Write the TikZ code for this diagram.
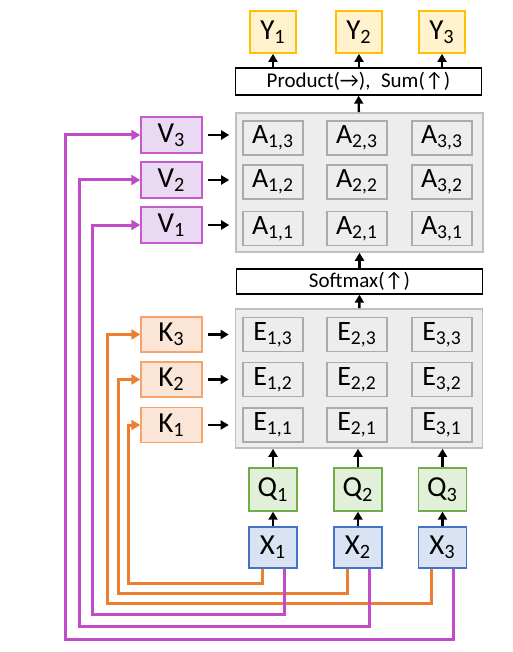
\documentclass[tikz,border=0pt]{standalone}
\usepackage{fontspec}
\setmainfont{Carlito}
\usetikzlibrary{calc,arrows.meta}
\definecolor{yfill}{HTML}{FFF2CC}
\definecolor{yline}{HTML}{FFC000}
\definecolor{vfill}{HTML}{EAD9F2}
\definecolor{vline}{HTML}{C55ACE}
\definecolor{kfill}{HTML}{FBE5D6}
\definecolor{kline}{HTML}{F4A46C}
\definecolor{qfill}{HTML}{E2F0D9}
\definecolor{qline}{HTML}{70AD47}
\definecolor{xfill}{HTML}{DAE3F3}
\definecolor{xline}{HTML}{4472C4}
\definecolor{gfill}{HTML}{EDEDED}
\definecolor{gline}{HTML}{BFBFBF}
\definecolor{cline}{HTML}{ABABAB}
\definecolor{purp}{HTML}{C04CC9}
\definecolor{oran}{HTML}{ED7D31}
\newcommand{\ix}[1]{\textsubscript{#1}}

\begin{document}
\begin{tikzpicture}[x=0.5pt,y=-0.5pt,every node/.style={draw,inner sep=0pt,font=\fontsize{14.5}{16}\selectfont},
	ybox/.style={fill=yfill,draw=yline,line width=0.9pt,minimum width=23pt,minimum height=21pt},
	vbox/.style={fill=vfill,draw=vline,line width=0.7pt,minimum width=30.5pt,minimum height=18pt},
	kbox/.style={fill=kfill,draw=kline,line width=0.7pt,minimum width=30.5pt,minimum height=17.5pt},
	qbox/.style={fill=qfill,draw=qline,line width=0.7pt,minimum width=24pt,minimum height=21.5pt},
	xbox/.style={fill=xfill,draw=xline,line width=0.7pt,minimum width=24pt,minimum height=20.5pt},
	gbox/.style={fill=gfill,draw=gline,line width=0.8pt,minimum width=123.5pt,minimum height=69.5pt},
	cell/.style={fill=gfill,draw=cline,line width=0.6pt,minimum width=30pt,minimum height=17pt,font=\fontsize{14}{16}\selectfont},
	bar/.style={fill=white,draw=black,line width=0.7pt,minimum width=123pt,font=\fontsize{10.5}{12}\selectfont}]
	
	\useasboundingbox (0,0) rectangle (513,652);
	
	\node[ybox] (y1) at (273,32){Y\ix{1}};
	\node[ybox] (y2) at (359,32){Y\ix{2}};
	\node[ybox] (y3) at (442,32){Y\ix{3}};
	\node[bar,minimum height=13.5pt] (prod) at (358.5,81.5){Product(→),\enspace Sum(↑)};
	
	\node[gbox] (abox) at (359.5,182.5){};
	\node[cell] (a13) at (273,138){A\ix{1,3}};
	\node[cell] (a23) at (357,138){A\ix{2,3}};
	\node[cell] (a33) at (442,138){A\ix{3,3}};
	\node[cell] (a12) at (273,182){A\ix{1,2}};
	\node[cell] (a22) at (357,182){A\ix{2,2}};
	\node[cell] (a32) at (442,182){A\ix{3,2}};
	\node[cell] (a11) at (273,228.5){A\ix{1,1}};
	\node[cell] (a21) at (357,228.5){A\ix{2,1}};
	\node[cell] (a31) at (442,228.5){A\ix{3,1}};
	
	\node[bar,minimum height=12.5pt] (soft) at (359.5,281.5){Softmax(↑)};
	
	\node[gbox] (ebox) at (359,378.5){};
	\node[cell] (e13) at (273,334.5){E\ix{1,3}};
	\node[cell] (e23) at (357,334.5){E\ix{2,3}};
	\node[cell] (e33) at (442,334.5){E\ix{3,3}};
	\node[cell] (e12) at (273,379.5){E\ix{1,2}};
	\node[cell] (e22) at (357,379.5){E\ix{2,2}};
	\node[cell] (e32) at (442,379.5){E\ix{3,2}};
	\node[cell] (e11) at (273,425){E\ix{1,1}};
	\node[cell] (e21) at (357,425){E\ix{2,1}};
	\node[cell] (e31) at (442,425){E\ix{3,1}};
	
	\node[vbox] (v3) at (171.5,135){V\ix{3}};
	\node[vbox] (v2) at (171.5,180){V\ix{2}};
	\node[vbox] (v1) at (171.5,225){V\ix{1}};
	\node[kbox] (k3) at (171.5,334.5){K\ix{3}};
	\node[kbox] (k2) at (171.5,379.5){K\ix{2}};
	\node[kbox] (k1) at (171.5,425){K\ix{1}};
	
	\node[qbox] (q1) at (273,489.5){Q\ix{1}};
	\node[qbox] (q2) at (358,489.5){Q\ix{2}};
	\node[qbox] (q3) at (442.5,489.5){Q\ix{3}};
	\node[xbox] (x1) at (273,547.5){X\ix{1}};
	\node[xbox] (x2) at (358,547.5){X\ix{2}};
	\node[xbox] (x3) at (442.5,547.5){X\ix{3}};
	
	%bends of the wires
	\coordinate (ko1) at (128,583);
	\coordinate (ko2) at (118,593);
	\coordinate (ko3) at (107,603);
	\coordinate (vo1) at (92,614);
	\coordinate (vo2) at (79,626);
	\coordinate (vo3) at (65,639);
	
	\begin{scope}[line width=1.2pt,-{Triangle[length=4pt,width=4.5pt]}]
	%black arrows
	\draw (prod.north -| y1) -- (y1);
	\draw (prod.north -| y2) -- (y2);
	\draw (prod.north -| y3) -- (y3);
	\draw (abox) -- (prod);
	\draw (soft) -- (abox);
	\draw (ebox) -- (soft);
	\draw (q1) -- (q1 |- ebox.south);
	\draw (q2) -- (q2 |- ebox.south);
	\draw (q3) -- (q3 |- ebox.south);
	\draw (x1) -- (q1);
	\draw (x2) -- (q2);
	\draw (x3) -- (q3);
	\draw[shorten <=2.5pt,shorten >=3pt] (v3) -- (v3 -| abox.west);
	\draw[shorten <=2.5pt,shorten >=3pt] (v2) -- (v2 -| abox.west);
	\draw[shorten <=2.5pt,shorten >=3pt] (v1) -- (v1 -| abox.west);
	\draw[shorten <=2.5pt,shorten >=3pt] (k3) -- (k3 -| ebox.west);
	\draw[shorten <=2.5pt,shorten >=3pt] (k2) -- (k2 -| ebox.west);
	\draw[shorten <=2.5pt,shorten >=3pt] (k1) -- (k1 -| ebox.west);
	\end{scope}
	
	\begin{scope}[line width=1.5pt,-{Triangle[length=4.5pt,width=5pt]}]
	%wires to keys and values
	\draw[oran] ([xshift=-5.5pt]x1.south) |- (ko1) |- (k1.west);
	\draw[oran] ([xshift=-5.5pt]x2.south) |- (ko2) |- (k2.west);
	\draw[oran] ([xshift=-5.5pt]x3.south) |- (ko3) |- (k3.west);
	\draw[purp] ([xshift=5.5pt]x1.south) |- (vo1) |- (v1.west);
	\draw[purp] ([xshift=5.5pt]x2.south) |- (vo2) |- (v2.west);
	\draw[purp] ([xshift=5.5pt]x3.south) |- (vo3) |- (v3.west);
	\end{scope}
	
\end{tikzpicture}
\end{document}
